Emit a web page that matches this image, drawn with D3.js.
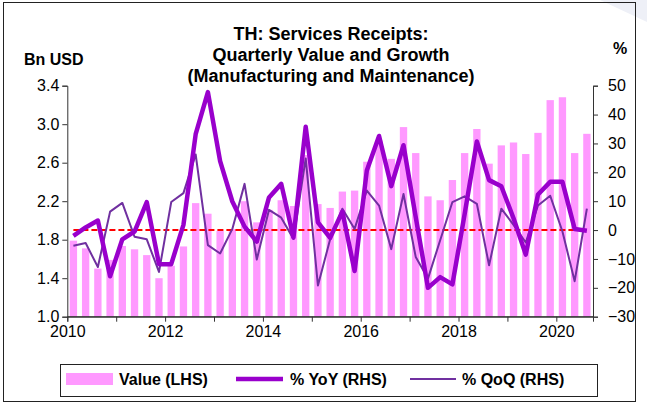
<!DOCTYPE html>
<html><head><meta charset="utf-8">
<script src="https://cdn.jsdelivr.net/npm/d3@7"></script>
<style>
html,body{margin:0;padding:0;background:#fff;}
svg{display:block;font-family:Arial,"Liberation Sans",sans-serif;}
</style></head>
<body><svg id="chart" width="647" height="403"></svg>
<script>
const categories = ["2010Q1","2010Q2","2010Q3","2010Q4","2011Q1","2011Q2","2011Q3","2011Q4",
"2012Q1","2012Q2","2012Q3","2012Q4","2013Q1","2013Q2","2013Q3","2013Q4",
"2014Q1","2014Q2","2014Q3","2014Q4","2015Q1","2015Q2","2015Q3","2015Q4",
"2016Q1","2016Q2","2016Q3","2016Q4","2017Q1","2017Q2","2017Q3","2017Q4",
"2018Q1","2018Q2","2018Q3","2018Q4","2019Q1","2019Q2","2019Q3","2019Q4",
"2020Q1","2020Q2","2020Q3"];
const valueLHS = [1.79,1.71,1.50,1.59,1.735,1.70,1.64,1.40,1.53,1.73,2.18,2.07,1.89,1.91,2.20,1.98,
2.11,2.21,2.15,2.68,2.17,2.13,2.30,2.31,2.61,2.83,2.64,2.97,2.70,2.25,2.21,2.42,
2.70,2.95,2.59,2.78,2.81,2.69,2.91,3.25,3.28,2.70,2.90];
const yoy = [-2.0,0.9,3.3,-16,-3.2,-0.5,9.7,-11.8,-11.8,1.8,33.2,47.8,23.9,9.9,1.2,-4.0,
11.3,16.0,-2.6,35.8,2.7,-2.7,6.4,-14.2,20.6,32.6,15.2,29.4,4.5,-20.0,-16.3,-18.8,
5.5,30.7,17.3,15.2,4.1,-8.5,12.3,16.7,16.7,0.4,-0.2];
const qoq = [-5.4,-4.5,-12.8,6.4,9.4,-2.3,-3.2,-14.5,9.7,12.8,26.2,-5.2,-8.1,0.4,16.0,-10.2,
7.0,4.3,-3.1,24.8,-19.2,-3.2,7.4,0.4,13.7,8.5,-6.6,12.5,-9.3,-16.8,-3.5,9.7,
11.7,9.1,-12.2,7.4,1.8,-4.3,8.5,11.9,-0.5,-17.7,7.4];
const leftTicks = [1.0,1.4,1.8,2.2,2.6,3.0,3.4];
const rightTicks = [-30,-20,-10,0,10,20,30,40,50];
const yearTicks = [2010,2011,2012,2013,2014,2015,2016,2017,2018,2019,2020];
const yearLabels = [2010,2012,2014,2016,2018,2020];
const titleLines = ["TH: Services Receipts:","Quarterly Value and Growth","(Manufacturing and Maintenance)"];
const legendItems = ["Value (LHS)","% YoY (RHS)","% QoQ (RHS)"];

const svg = d3.select("#chart");
const L = 67.3, R = 593, T = 85.7, B = 316.7;
const font = "Arial, 'Liberation Sans', sans-serif";

// background decoration & frame
svg.append("path").attr("d","M600,0 L647,0 L647,22 Z").attr("fill","#eef0f7");
svg.append("rect").attr("x",3.5).attr("y",2.5).attr("width",632).attr("height",399)
  .attr("fill","none").attr("stroke","#222").attr("stroke-width",1);

const x = d3.scaleBand().domain(categories).range([L,R]).paddingInner(0.4).paddingOuter(0.2);
const xYear = d3.scaleLinear().domain([2010, 2010 + categories.length/4]).range([L,R]);
const yL = d3.scaleLinear().domain([1.0,3.4]).range([B,T]);
const yR = d3.scaleLinear().domain([-30,50]).range([B,T]);

// bars
svg.append("g").selectAll("rect").data(valueLHS).join("rect")
  .attr("x",(d,i)=>x(categories[i])).attr("width",x.bandwidth())
  .attr("y",d=>yL(d)).attr("height",d=>yL(1.0)-yL(d))
  .attr("fill","#FF99FF");

// zero line
svg.append("line")
  .attr("x1",x(categories[0])+x.bandwidth()/2).attr("x2",x(categories[categories.length-1])+x.bandwidth()/2)
  .attr("y1",yR(0)).attr("y2",yR(0))
  .attr("stroke","#FF0000").attr("stroke-width",2).attr("stroke-dasharray","6,3");

const cx = i => x(categories[i]) + x.bandwidth()/2;
const lineGen = d3.line().x((d,i)=>cx(i)).y(d=>yR(d));
svg.append("path").datum(qoq).attr("d",lineGen).attr("fill","none")
  .attr("stroke","#7030A0").attr("stroke-width",2).attr("stroke-linejoin","round");
svg.append("path").datum(yoy).attr("d",lineGen).attr("fill","none")
  .attr("stroke","#9900CC").attr("stroke-width",4.5).attr("stroke-linejoin","round");

// left axis
const axL = d3.axisLeft(yL).tickValues(leftTicks).tickFormat(d3.format(".1f")).tickSizeOuter(0).tickSize(5).tickPadding(3);
const gL = svg.append("g").attr("transform",`translate(${L},0)`).call(axL);
// right axis
const axR = d3.axisRight(yR).tickValues(rightTicks).tickFormat(d3.format("d")).tickSizeOuter(0).tickSize(5).tickPadding(10);
const gR = svg.append("g").attr("transform",`translate(${R},0)`).call(axR);
// bottom axis
const axB = d3.axisBottom(xYear).tickValues(yearTicks)
  .tickFormat(d => yearLabels.includes(d) ? String(d) : "").tickSizeOuter(0).tickSize(5).tickPadding(4);
const gB = svg.append("g").attr("transform",`translate(0,${B})`).call(axB);
svg.append("line").attr("x1",L).attr("x2",R).attr("y1",B).attr("y2",B).attr("stroke","#333");

[gL,gR,gB].forEach(g=>{
  g.selectAll("path.domain").attr("stroke","#333");
  g.selectAll(".tick line").attr("stroke","#333");
  g.selectAll("text").attr("font-family",font).attr("font-size",16).attr("fill","#000");
});

// titles
svg.append("g").selectAll("text").data(titleLines).join("text")
  .attr("x",331).attr("y",(d,i)=>40+i*21).attr("text-anchor","middle")
  .attr("font-family",font).attr("font-size",18).attr("font-weight","bold").text(d=>d);
svg.append("text").attr("x",24).attr("y",65).attr("font-family",font).attr("font-size",16)
  .attr("font-weight","bold").text("Bn USD");
svg.append("text").attr("x",620).attr("y",54).attr("text-anchor","middle").attr("font-family",font).attr("font-size",16)
  .attr("font-weight","bold").text("%");

// legend
const lg = svg.append("g");
lg.append("rect").attr("x",60.5).attr("y",364.5).attr("width",537).attr("height",32)
  .attr("fill","#fff").attr("stroke","#222");
lg.append("rect").attr("x",66).attr("y",373).attr("width",47).attr("height",12).attr("fill","#FF99FF");
lg.append("line").attr("x1",236).attr("x2",283).attr("y1",379).attr("y2",379).attr("stroke","#9900CC").attr("stroke-width",4.5);
lg.append("line").attr("x1",410).attr("x2",456).attr("y1",379).attr("y2",379).attr("stroke","#7030A0").attr("stroke-width",2);
const lx = [119,290,462];
lg.selectAll("text.lt").data(legendItems).join("text").attr("class","lt")
  .attr("x",(d,i)=>lx[i]).attr("y",385).attr("font-family",font).attr("font-size",16)
  .attr("font-weight","bold").text(d=>d);
</script></body></html>
